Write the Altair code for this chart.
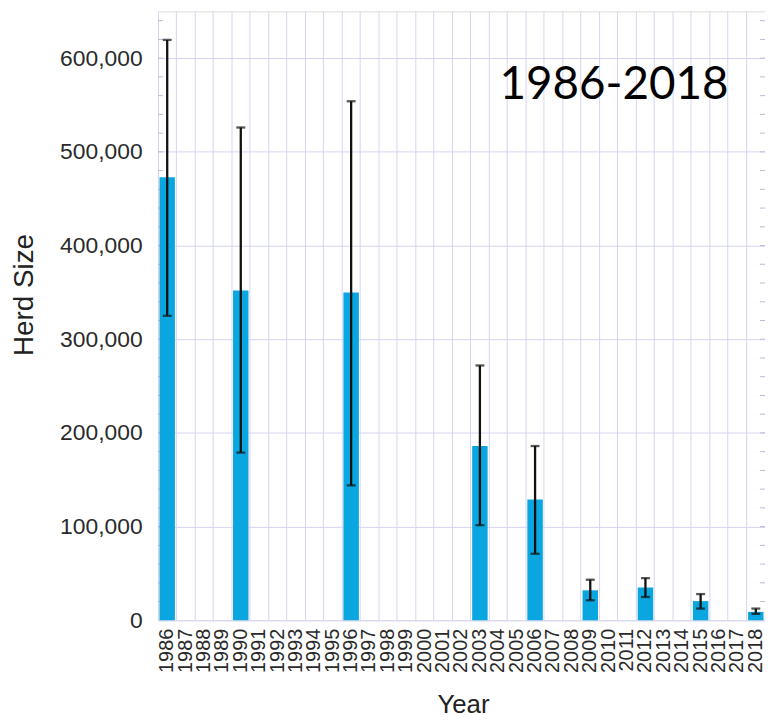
import altair as alt
import pandas as pd

all_years = [str(y) for y in range(1986, 2019)]
survey_years = ["1986", "1990", "1996", "2003", "2006", "2009", "2012", "2015", "2018"]
herd_size = [473000, 352000, 350000, 186000, 129000, 32000, 35000, 20500, 9000]
ci_low = [325000, 179000, 144000, 101500, 71000, 21400, 24900, 12500, 6900]
ci_high = [619500, 526000, 554000, 272000, 186000, 43300, 45000, 28000, 12500]
major_ticks = [0, 100000, 200000, 300000, 400000, 500000, 600000]
minor_ticks = list(range(20000, 650000, 20000))

df = pd.DataFrame({"Year": survey_years, "Herd": herd_size, "Low": ci_low, "High": ci_high})
minor_df = pd.DataFrame({"v": minor_ticks})

GRID = "#d5d5f3"
FONT = "Liberation Sans"
LBL = "#2a2a2a"

xscale = alt.Scale(domain=all_years, paddingInner=0, paddingOuter=0)
yscale = alt.Scale(domain=[0, 650000], nice=False)

x_enc = alt.X("Year:N", scale=xscale, sort=all_years,
              axis=alt.Axis(title="Year", grid=True, bandPosition=0, gridColor=GRID, gridWidth=1,
                            ticks=False, domain=False, labelAngle=270, labelAlign="right",
                            labelBaseline="middle", labelPadding=8, labelFontSize=20,
                            labelColor=LBL, labelFont=FONT, titleFont=FONT,
                            titleFontSize=26, titleFontWeight="normal", titleColor="#222222",
                            titleX=307, titleY=93, titleAlign="center",
                            titleBaseline="alphabetic"))

bars = alt.Chart(df).mark_bar(color="#0aa6e0", width=alt.RelativeBandSize(0.84)).encode(
    x=x_enc,
    y=alt.Y("Herd:Q", scale=yscale,
            axis=alt.Axis(title="Herd Size", values=major_ticks, format=",d", grid=True,
                          gridColor=GRID, gridWidth=1, ticks=False, domain=False,
                          labelFontSize=23, labelColor=LBL, labelFont=FONT,
                          labelPadding=16, titleFont=FONT, titleFontSize=28,
                          titleFontWeight="normal", titleColor="#222222", titleAngle=270,
                          titleX=-126, titleY=285, titleAlign="center",
                          titleBaseline="alphabetic")),
)

err = alt.Chart(df).mark_rule(color="#111111", strokeWidth=2.3).encode(
    x=alt.X("Year:N", scale=xscale, sort=all_years),
    y=alt.Y("Low:Q", scale=yscale),
    y2="High:Q",
)
cap_lo = alt.Chart(df).mark_tick(color="#111111", thickness=2.3, size=9).encode(
    x=alt.X("Year:N", scale=xscale, sort=all_years),
    y=alt.Y("Low:Q", scale=yscale),
)
cap_hi = alt.Chart(df).mark_tick(color="#111111", thickness=2.3, size=9).encode(
    x=alt.X("Year:N", scale=xscale, sort=all_years),
    y=alt.Y("High:Q", scale=yscale),
)

minor_left = alt.Chart(minor_df).mark_rule(color="#b8b8e0", strokeWidth=1).encode(
    y=alt.Y("v:Q", scale=yscale), x=alt.value(0), x2=alt.value(5)
)
minor_right = alt.Chart(minor_df).mark_rule(color="#b8b8e0", strokeWidth=1).encode(
    y=alt.Y("v:Q", scale=yscale), x=alt.value(606), x2=alt.value(611)
)

label = alt.Chart(pd.DataFrame({"t": ["1986-2018"]})).mark_text(
    font="Lato", fontSize=46, color="#000000", align="center", baseline="alphabetic"
).encode(text="t:N", x=alt.value(459), y=alt.value(88))

chart = alt.layer(minor_left, minor_right, bars, err, cap_lo, cap_hi, label).properties(
    width=611, height=613,
    autosize=alt.AutoSizeParams(type="none"),
    padding={"left": 151, "top": 1, "right": 0, "bottom": 95},
).configure_view(stroke=GRID, strokeWidth=1.5).configure(background="white")

chart.save("out.html", embed_options={"renderer": "svg", "actions": False})
